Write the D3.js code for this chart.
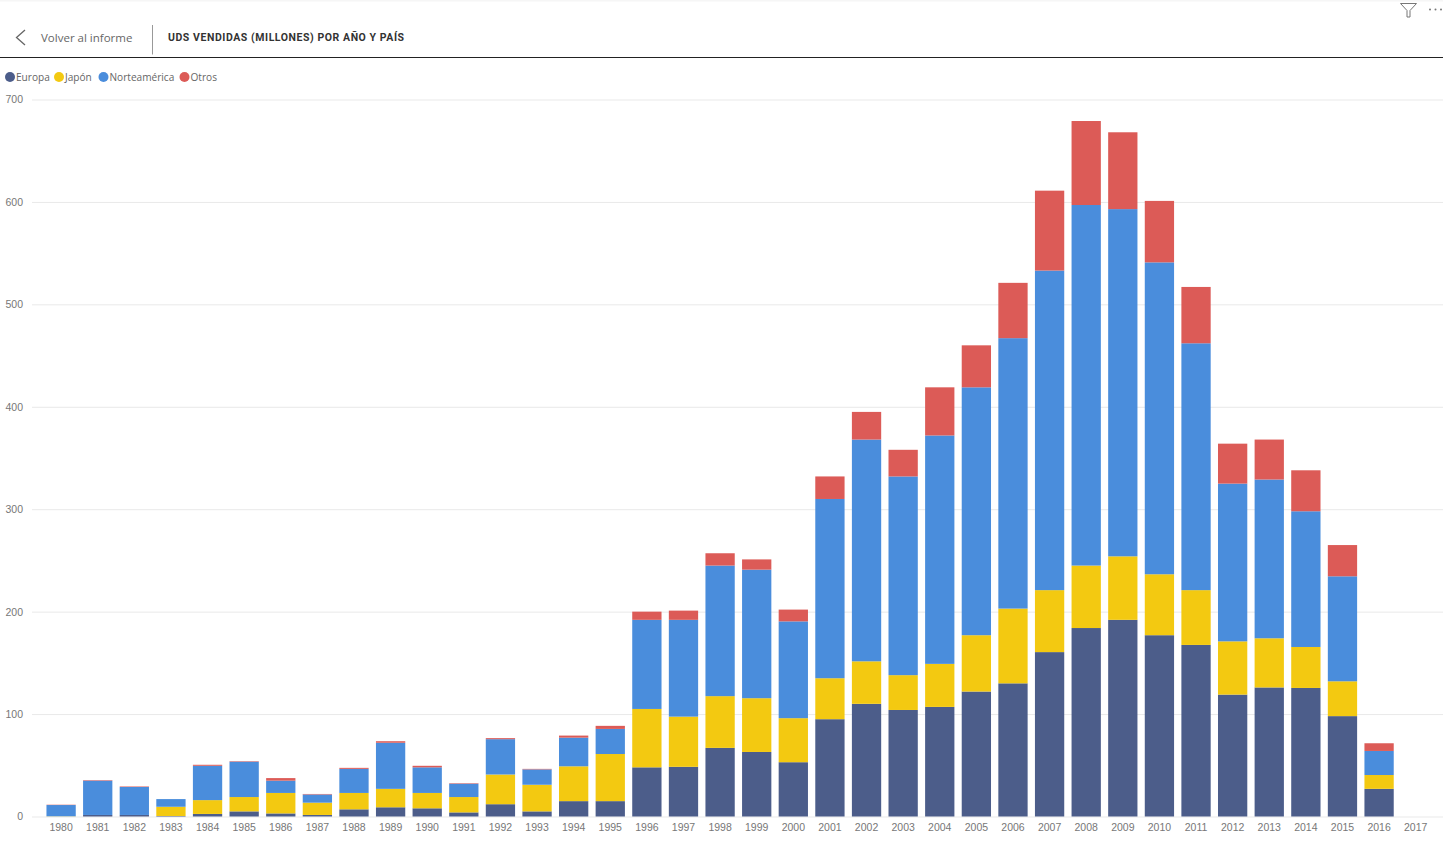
<!DOCTYPE html>
<html lang="es">
<head>
<meta charset="utf-8">
<title>Uds vendidas</title>
<script src="https://cdn.jsdelivr.net/npm/d3@7"></script>
<style>
  html, body { margin: 0; background: #fff; overflow: hidden; }
  svg { display: block; font-family: "Open Sans", "Noto Sans", sans-serif; }
  .tick text { fill: #777; font-size: 10.5px; }
  .legend text { fill: #666; font-size: 10.1px; }
</style>
</head>
<body>
<svg id="chart" width="1443" height="841"></svg>
<script>
const years = d3.range(1980, 2018).map(String)
const yTicks = [0, 100, 200, 300, 400, 500, 600, 700]
const seriesNames = ['Europa', 'Japón', 'Norteamérica', 'Otros']
const seriesColors = ['#4c5d8a', '#f3c911', '#4a8ddc', '#dc5b57']

const europa = [0, 1.5, 1.5, 0.5, 2.5, 5, 3, 1.5, 7, 9, 8, 4, 12, 5, 15, 15, 48, 48.5, 67, 63, 53, 95, 110, 104, 107, 122, 130, 160.5, 184, 192, 177, 167.5, 119, 126, 125.5, 98, 27, 0]
const japon = [0.2, 0, 0, 9, 13.5, 14, 20, 12, 16, 18, 15, 15, 29, 26, 34, 46, 57, 49, 50.5, 52.5, 43, 40, 41.5, 34, 42, 55, 73, 60.5, 61, 62, 59.5, 53.5, 52, 48, 40, 34, 13.5, 0]
const norteamerica = [11, 33.5, 27.3, 7.5, 33.5, 34.5, 12, 8, 23.5, 45, 25, 13, 34.5, 15, 28, 24.5, 87, 94.5, 127.5, 125.5, 94.5, 175, 216.5, 194, 223, 242, 264, 312, 352, 339, 304.5, 241, 154, 155, 132.5, 102.5, 23.5, 0]
const otros = [0.3, 0.5, 0.5, 0, 1, 0.5, 2.5, 0.5, 1, 1.5, 1.5, 0.5, 1, 0.5, 2, 3, 8, 9, 12, 10, 11.5, 22, 27, 26, 47, 41, 54, 78, 82, 75, 60, 55, 39, 39, 40, 30.5, 7.5, 0]

const svg = d3.select('#chart')
const allSeries = [europa, japon, norteamerica, otros]
const rows = years.map((year, i) => {
  const row = { year }
  seriesNames.forEach((name, s) => { row[name] = allSeries[s][i] })
  return row
})
const stacked = d3.stack().keys(seriesNames)(rows)

const x = d3.scaleBand().domain(years).range([42.8, 1434]).paddingInner(0.2).paddingOuter(0.1)
const y = d3.scaleLinear().domain([0, 700]).range([816.5, 99.5])

// top bar
svg.append('rect').attr('width', 1443).attr('height', 1.5).attr('fill', '#f6f6f6')
svg.append('path')
  .attr('d', 'M25 30 L16.5 37.5 L25 45')
  .attr('fill', 'none').attr('stroke', '#666').attr('stroke-width', 1.3)
svg.append('text').attr('x', 41).attr('y', 42)
  .attr('font-size', 11.5).attr('fill', '#666').text('Volver al informe')
svg.append('line').attr('x1', 152.5).attr('x2', 152.5).attr('y1', 25).attr('y2', 54.5)
  .attr('stroke', '#999')
svg.append('text').attr('x', 168).attr('y', 41)
  .attr('font-family', '"Roboto", sans-serif')
  .attr('font-size', 10.5).attr('font-weight', 700).attr('letter-spacing', 0.56).attr('fill', '#333')
  .text('UDS VENDIDAS (MILLONES) POR AÑO Y PAÍS')
svg.append('line').attr('x1', 0).attr('x2', 1443).attr('y1', 57.5).attr('y2', 57.5)
  .attr('stroke', '#222').attr('stroke-width', 1.2)

// filter and more icons
svg.append('path')
  .attr('d', 'M1400.5 3.5 H1416.5 L1410 10.5 V17 H1407 V10.5 Z')
  .attr('fill', 'none').attr('stroke', '#777')
svg.append('g').selectAll('circle').data([1430, 1435.5, 1441]).join('circle')
  .attr('cx', d => d).attr('cy', 9.5).attr('r', 1).attr('fill', '#777')

// legend
const legendX = [10, 59, 103.5, 184.5]
const legend = svg.append('g').attr('class', 'legend')
  .selectAll('g').data(seriesNames).join('g')
  .attr('transform', (d, i) => `translate(${legendX[i]},77)`)
legend.append('circle').attr('r', 5).attr('fill', (d, i) => seriesColors[i])
legend.append('text').attr('x', 6).attr('y', 4).text(d => d)

// axes
const yAxis = d3.axisLeft(y).tickValues(yTicks).tickSize(-1411).tickPadding(9)
svg.append('g').attr('transform', 'translate(32,0)').call(yAxis)
  .call(g => g.select('.domain').remove())
  .call(g => g.selectAll('.tick line').attr('stroke', '#e9e9e9'))

const xAxis = d3.axisBottom(x).tickSize(0).tickPadding(7)
svg.append('g').attr('transform', 'translate(0,816.5)').call(xAxis)
  .call(g => g.select('.domain').remove())

// bars
svg.append('g').selectAll('g').data(stacked).join('g')
  .attr('fill', (d, i) => seriesColors[i])
  .selectAll('rect').data(d => d).join('rect')
  .attr('x', d => x(d.data.year))
  .attr('width', x.bandwidth())
  .attr('y', d => y(d[1]))
  .attr('height', d => y(d[0]) - y(d[1]))
</script>
</body>
</html>
